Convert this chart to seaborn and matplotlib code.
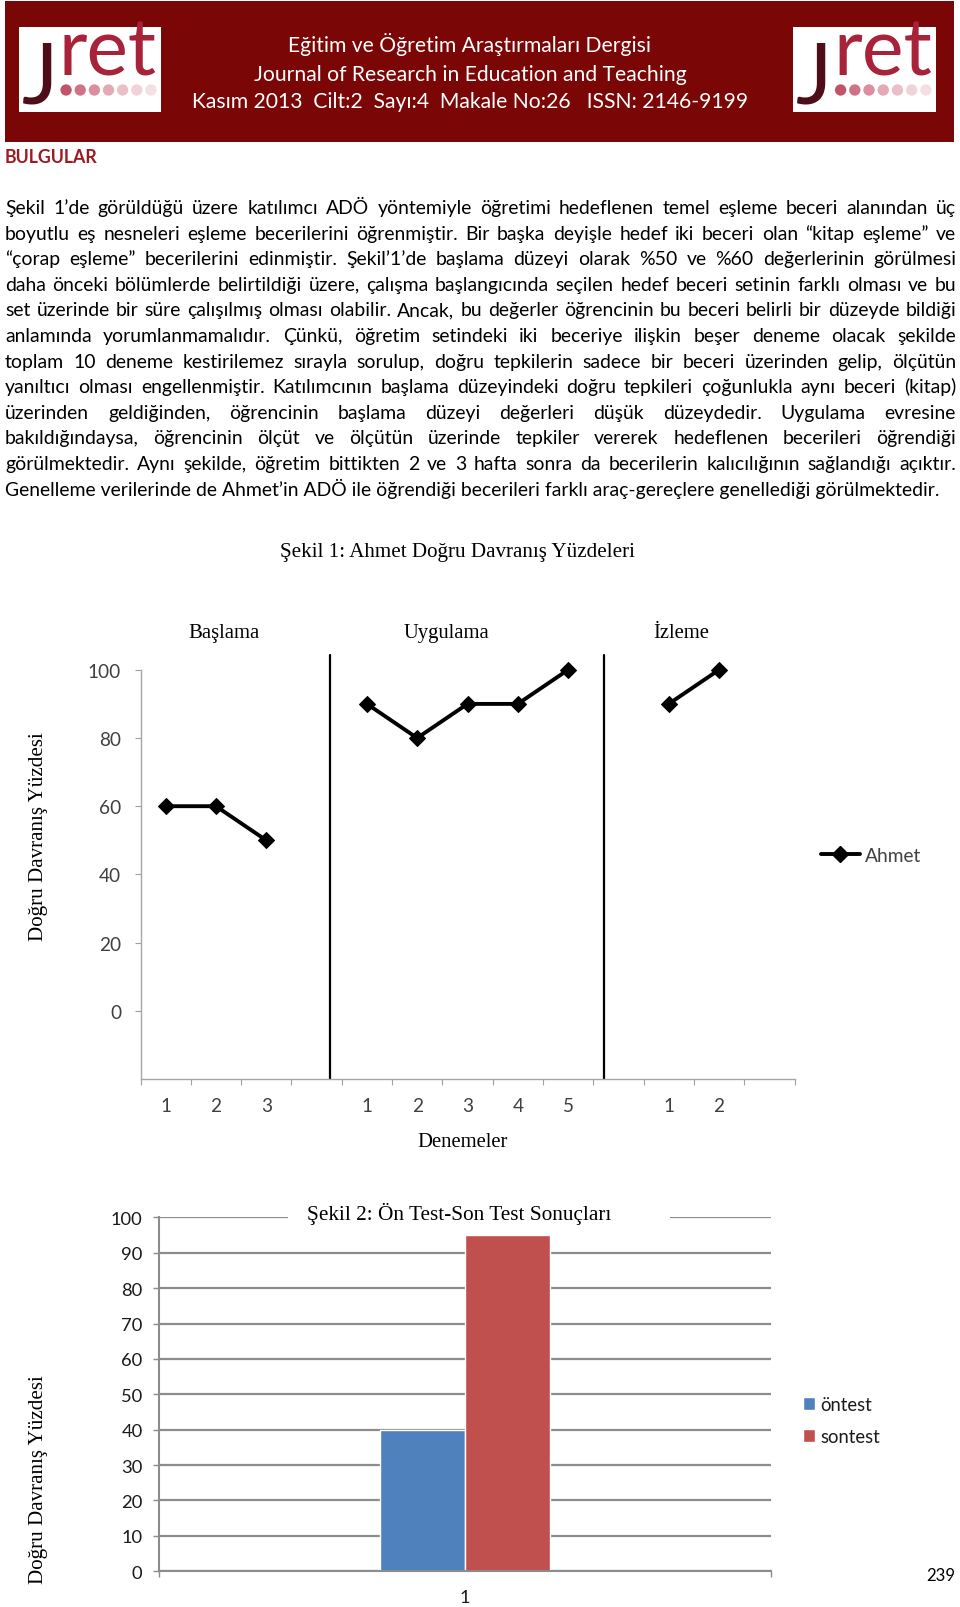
import numpy as np
import pandas as pd
import matplotlib
matplotlib.use("Agg")
import matplotlib.pyplot as plt
import seaborn as sns
from matplotlib.patches import Rectangle, Ellipse
from matplotlib.lines import Line2D

# ---------------- data ----------------
phase_names = ["Başlama", "Uygulama", "İzleme"]
baslama_values = [60, 60, 50]
uygulama_values = [90, 80, 90, 90, 100]
izleme_values = [90, 100]
y_ticks_1 = [0, 20, 40, 60, 80, 100]
series_name_1 = "Ahmet"

test_labels = ["öntest", "sontest"]
test_values = [40, 95]
category_2 = ["1"]
y_ticks_2 = list(range(0, 101, 10))

header_lines = [
    "Eğitim ve Öğretim Araştırmaları Dergisi",
    "Journal of Research in Education and Teaching",
    "Kasım 2013  Cilt:2  Sayı:4  Makale No:26   ISSN: 2146-9199",
]
section_title = "BULGULAR"
body_lines = [
    "Şekil 1’de görüldüğü üzere katılımcı ADÖ yöntemiyle öğretimi hedeflenen temel eşleme beceri alanından üç",
    "boyutlu eş nesneleri eşleme becerilerini öğrenmiştir. Bir başka deyişle hedef iki beceri olan “kitap eşleme” ve",
    "“çorap eşleme” becerilerini edinmiştir. Şekil’1’de başlama düzeyi olarak %50 ve %60 değerlerinin görülmesi",
    "daha önceki bölümlerde belirtildiği üzere, çalışma başlangıcında seçilen hedef beceri setinin farklı olması ve bu",
    "set üzerinde bir süre çalışılmış olması olabilir. Ancak, bu değerler öğrencinin bu beceri belirli bir düzeyde bildiği",
    "anlamında yorumlanmamalıdır. Çünkü, öğretim setindeki iki beceriye ilişkin beşer deneme olacak şekilde",
    "toplam 10 deneme kestirilemez sırayla sorulup, doğru tepkilerin sadece bir beceri üzerinden gelip, ölçütün",
    "yanıltıcı olması engellenmiştir. Katılımcının başlama düzeyindeki doğru tepkileri çoğunlukla aynı beceri (kitap)",
    "üzerinden geldiğinden, öğrencinin başlama düzeyi değerleri düşük düzeydedir. Uygulama evresine",
    "bakıldığındaysa, öğrencinin ölçüt ve ölçütün üzerinde tepkiler vererek hedeflenen becerileri öğrendiği",
    "görülmektedir. Aynı şekilde, öğretim bittikten 2 ve 3 hafta sonra da becerilerin kalıcılığının sağlandığı açıktır.",
    "Genelleme verilerinde de Ahmet’in ADÖ ile öğrendiği becerileri farklı araç-gereçlere genellediği görülmektedir.",
]
fig1_title = "Şekil 1: Ahmet Doğru Davranış Yüzdeleri"
fig2_title = "Şekil 2: Ön Test-Son Test Sonuçları"
y_label = "Doğru Davranış Yüzdesi"
x_label_1 = "Denemeler"
page_number = "239"

# ---------------- setup ----------------
W, H = 960, 1608
sns.set_style("white")
SANS = ["Lato", "DejaVu Sans"]
SERIF = ["Liberation Serif", "DejaVu Serif"]
plt.rcParams["font.family"] = SANS

fig = plt.figure(figsize=(W / 100, H / 100), dpi=100)
fig.patch.set_facecolor("white")
R = fig.canvas.get_renderer()


def fx(px):
    return px / W


def fy(py):
    return 1 - py / H


def text_w(s, size, family=SANS, weight="normal"):
    t = fig.text(0, 0, s, fontsize=size, family=family, weight=weight)
    w = t.get_window_extent(renderer=R).width
    t.remove()
    return w


def fit(s, width, family=SANS, weight="normal", base=20.0):
    return base * width / text_w(s, base, family, weight)


# ---------------- header ----------------
fig.add_artist(Rectangle((fx(5), fy(143)), fx(954) - fx(5), fy(2) - fy(143),
                         transform=fig.transFigure, facecolor="#7a0606",
                         edgecolor="none", zorder=0))
hdr_fs = fit(header_lines[1], 434)
for s, yb in zip(header_lines, [52, 81, 108]):
    fig.text(fx(470), fy(yb), s, ha="center", va="baseline", color="white",
             fontsize=hdr_fs, family=SANS, zorder=2)

j_fs = 62
j_w = text_w("J", j_fs)
for x0, x1 in [(18.5, 161), (793, 936)]:
    fig.add_artist(Rectangle((fx(x0), fy(112.8)), fx(x1) - fx(x0), fy(27.7) - fy(112.8),
                             transform=fig.transFigure, facecolor="white",
                             edgecolor="none", zorder=1))
    fig.text(fx(x0 + 3), fy(104), "J", ha="left", va="baseline", color="#4f0d1a",
             fontsize=j_fs, family=SANS, zorder=2)
    xs = x0 + 3 + j_w + 1
    ret_w = x1 - 3 - xs
    fig.text(fx(xs), fy(76), "ret", ha="left", va="baseline", color="#a8233a",
             fontsize=fit("ret", ret_w), family=SANS, zorder=2)
    n_dots = 7
    step = ret_w / n_dots
    for k in range(n_dots):
        cx = xs + step * (k + 0.5)
        shade = ["#c2546a", "#cf7285", "#da8e9e", "#e3a9b5", "#eabfc8", "#f0d2d8", "#f4e0e4"][k]
        fig.add_artist(Ellipse((fx(cx), fy(91)), (step * 0.8) / W, (step * 0.8) / H,
                               transform=fig.transFigure, facecolor=shade,
                               edgecolor="none", zorder=2))

# ---------------- section + body ----------------
fig.text(fx(5), fy(163), section_title, ha="left", va="baseline", weight="bold",
         color="#9c1a22", fontsize=fit(section_title, 93, weight="bold"))

body_fs = fit(body_lines[-1], 940)
left, right = 5, 956
for i, line in enumerate(body_lines):
    yb = 214.0 + 25.6 * i
    if i == len(body_lines) - 1:
        fig.text(fx(left), fy(yb), line, ha="left", va="baseline",
                 fontsize=body_fs, color="black")
        continue
    words = line.split()
    widths = [text_w(w_, body_fs) for w_ in words]
    gap = (right - left - sum(widths)) / (len(words) - 1)
    x = left
    for w_, wd in zip(words, widths):
        fig.text(fx(x), fy(yb), w_, ha="left", va="baseline",
                 fontsize=body_fs, color="black")
        x += wd + gap

# ---------------- chart 1 ----------------
fig.text(fx(458), fy(557), fig1_title, ha="center", va="baseline",
         family=SERIF, fontsize=fit(fig1_title, 353, SERIF), color="black")

phase_values = [baslama_values, uygulama_values, izleme_values]
rows = []
slot = 0
for name, vals in zip(phase_names, phase_values):
    for j, v in enumerate(vals):
        rows.append(dict(phase=name, slot=slot, session=str(j + 1), value=v))
        slot += 1
    slot += 1
n_slots = slot
df1 = pd.DataFrame(rows)

ax1 = fig.add_axes([fx(140.5), fy(1080), fx(794.5) - fx(140.5), fy(670.8) - fy(1080)])
sns.lineplot(data=df1, x="slot", y="value", units="phase", estimator=None,
             sort=False, color="black", lw=2.8, marker="D", markersize=8.5,
             markeredgecolor="black", markerfacecolor="black", ax=ax1,
             legend=False, clip_on=False)
ax1.set_xlim(-0.5, n_slots - 0.5)
ax1.set_ylim(-20, 100)

phase_line_x = [3.27, 8.71]
for px_ in phase_line_x:
    ax1.axvline(px_, ymin=0, ymax=1.037, color="black", lw=1.6, clip_on=False)

tick_fs = fit("100", 33)
ax1.set_yticks(y_ticks_1)
ax1.set_xticks(df1["slot"].tolist())
ax1.set_xticklabels(df1["session"].tolist())
ax1.set_xticks(np.arange(-0.5, n_slots, 1.0), minor=True)
ax1.tick_params(axis="y", which="major", left=True, length=4.3, width=0.8,
                color="#a0a0a0", pad=9.7, labelsize=tick_fs, labelcolor="#404040")
ax1.tick_params(axis="x", which="major", bottom=True, length=0, pad=13,
                labelsize=tick_fs, labelcolor="#404040")
ax1.tick_params(axis="x", which="minor", bottom=True, length=4.3, width=0.8,
                color="#a0a0a0")
for sp in ["top", "right"]:
    ax1.spines[sp].set_visible(False)
for sp in ["left", "bottom"]:
    ax1.spines[sp].set_color("#a6a6a6")
    ax1.spines[sp].set_linewidth(1.0)
ax1.set_xlabel("")
ax1.set_ylabel("")
ax1.set_facecolor("none")

phase_fs = fit("Uygulama", 86, SERIF)
for name, xc in zip(phase_names, [223.6, 446.5, 681.5]):
    fig.text(fx(xc), fy(638), name, ha="center", va="baseline",
             family=SERIF, fontsize=phase_fs, color="black")

leg_fs = fit(series_name_1, 56.5)
fs_px = leg_fs * 100 / 72
h1 = Line2D([], [], color="black", lw=2.8, marker="D", markersize=8.5,
            markeredgecolor="black", markerfacecolor="black")
ax1.legend(handles=[h1], labels=[series_name_1], loc="center left",
           bbox_to_anchor=(fx(820.5), fy(856.4)), bbox_transform=fig.transFigure,
           frameon=False, fontsize=leg_fs, labelcolor="#404040",
           handlelength=39 / fs_px, handletextpad=5 / fs_px,
           borderpad=0, borderaxespad=0)

ylab_fs = fit(y_label, 208, SERIF)
fig.text(fx(39), fy(837), y_label, rotation=90, ha="center", va="center",
         family=SERIF, fontsize=ylab_fs, color="black")
fig.text(fx(462.5), fy(1147), x_label_1, ha="center", va="baseline",
         family=SERIF, fontsize=fit(x_label_1, 91, SERIF), color="black")

# ---------------- chart 2 ----------------
df2 = pd.DataFrame({"category": category_2 * len(test_labels),
                    "test": test_labels, "value": test_values})
ax2 = fig.add_axes([fx(159), fy(1572.2), fx(771) - fx(159), fy(1218.4) - fy(1572.2)])
sns.barplot(data=df2, x="category", y="value", hue="test",
            palette=["#4F81BD", "#C0504D"], saturation=1, width=0.278,
            errorbar=None, ax=ax2)
ax2.set_xlim(-0.5, 0.5)
ax2.set_ylim(0, 100)
ax2.set_yticks(y_ticks_2)
ax2.grid(axis="y", color="#8c8c8c", lw=1.6)
ax2.grid(axis="x", visible=False)
ax2.set_axisbelow(True)
ax2.set_xticks([-0.5, 0.5], minor=True)
tick2_fs = fit("100", 32)
ax2.tick_params(axis="y", which="major", left=True, length=4.3, width=1.0,
                color="#8c8c8c", pad=7.5, labelsize=tick2_fs, labelcolor="#1a1a1a")
ax2.tick_params(axis="x", which="major", bottom=True, length=0, pad=13,
                labelsize=tick2_fs, labelcolor="#1a1a1a")
ax2.tick_params(axis="x", which="minor", bottom=True, length=4.3, width=1.0,
                color="#8c8c8c")
for sp in ["top", "right"]:
    ax2.spines[sp].set_visible(False)
for sp in ["left", "bottom"]:
    ax2.spines[sp].set_color("#8c8c8c")
    ax2.spines[sp].set_linewidth(1.5)
ax2.set_xlabel("")
ax2.set_ylabel("")

handles, labels = ax2.get_legend_handles_labels()
leg2_fs = fit("öntest", 52)
fs2_px = leg2_fs * 100 / 72
ax2.legend(handles, labels, loc="center left",
           bbox_to_anchor=(fx(803), fy(1421.5)), bbox_transform=fig.transFigure,
           frameon=False, fontsize=leg2_fs, labelcolor="#1a1a1a",
           handlelength=12 / fs2_px, handleheight=12 / fs2_px,
           handletextpad=5 / fs2_px, labelspacing=0.8,
           borderpad=0, borderaxespad=0)

fig.add_artist(Rectangle((fx(288), fy(1230)), fx(670) - fx(288), fy(1205) - fy(1230),
                         transform=fig.transFigure, facecolor="white",
                         edgecolor="none", zorder=3))
fig.text(fx(459.5), fy(1220), fig2_title, ha="center", va="baseline",
         family=SERIF, fontsize=fit(fig2_title, 303.6, SERIF), color="black", zorder=4)

fig.text(fx(39), fy(1480), y_label, rotation=90, ha="center", va="center",
         family=SERIF, fontsize=ylab_fs, color="black")
fig.text(fx(926), fy(1581), page_number, ha="left", va="baseline",
         fontsize=fit(page_number, 29), color="black")

fig.savefig("out.png", dpi=100, facecolor="white")
